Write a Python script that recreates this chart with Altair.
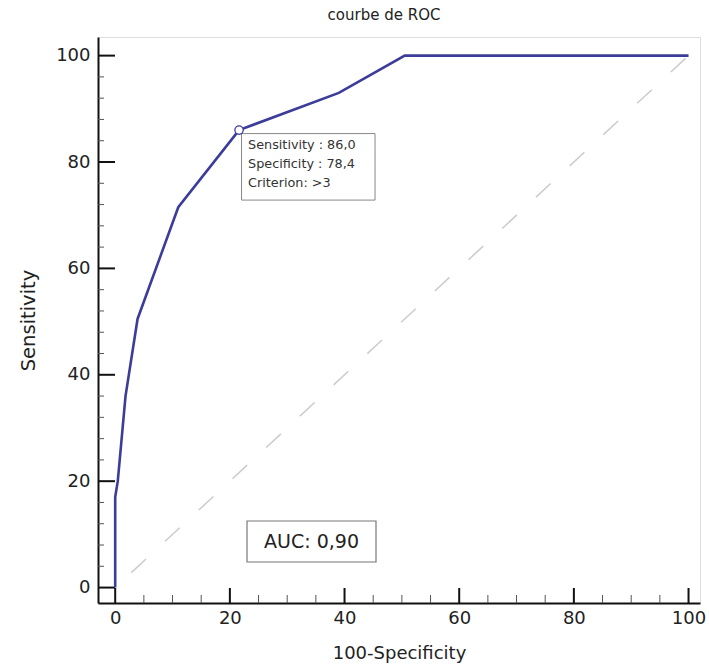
import altair as alt
import pandas as pd

# ROC curve points (100-Specificity, Sensitivity)
fpr = [0, 0, 0.45, 1.8, 3.9, 11.0, 21.6, 39.0, 50.5, 100]
sens = [0, 17, 20, 36, 50.5, 71.5, 86.0, 93.0, 100, 100]

# reference diagonal
diag_x = [0, 100]
diag_y = [0, 100]

# optimal criterion
opt_x = [21.6]
opt_y = [86.0]
opt_text = ["Sensitivity : 86,0\nSpecificity : 78,4\nCriterion: >3"]

auc_text = ["AUC: 0,90"]

x_major = [0, 20, 40, 60, 80, 100]
x_minor = [v for v in range(5, 100, 5) if v % 20 != 0]
y_major = [0, 20, 40, 60, 80, 100]
y_minor = [v for v in range(4, 100, 4) if v % 20 != 0]

W, H = 602, 566
FONT = "DejaVu Sans"
NAVY = "#3c3c9a"

xs = alt.Scale(domain=[-3, 102], nice=False, zero=False)
ys = alt.Scale(domain=[-2.9, 103.5], nice=False, zero=False)

xaxis = alt.Axis(values=x_major, tickSize=0, grid=False, labelFontSize=18, labelFont=FONT,
                 labelColor="#222", labelPadding=6, title="100-Specificity", titleFont=FONT,
                 titleFontSize=18, titleFontWeight="normal", titleColor="#222", titlePadding=17,
                 domainColor="#111", domainWidth=2, labelFlush=False)
yaxis = alt.Axis(values=y_major, tickSize=0, grid=False, labelFontSize=18, labelFont=FONT,
                 labelColor="#222", labelPadding=8, title="Sensitivity", titleFont=FONT,
                 titleFontSize=19.5, titleFontWeight="normal", titleColor="#222", titlePadding=17,
                 domainColor="#111", domainWidth=2, labelFlush=False)

roc_df = pd.DataFrame({"fpr": fpr, "sens": sens, "order": list(range(len(fpr)))})
diag_df = pd.DataFrame({"fpr": diag_x, "sens": diag_y})
opt_df = pd.DataFrame({"fpr": opt_x, "sens": opt_y, "label": opt_text})

diag = alt.Chart(diag_df).mark_line(color="#cbcbcb", strokeWidth=1.5, strokeDash=[20, 26],
                                    strokeDashOffset=-22).encode(
    x=alt.X("fpr:Q", scale=xs, axis=xaxis),
    y=alt.Y("sens:Q", scale=ys, axis=yaxis),
)

roc = alt.Chart(roc_df).mark_line(color=NAVY, strokeWidth=2.6).encode(
    x=alt.X("fpr:Q", scale=xs),
    y=alt.Y("sens:Q", scale=ys),
    order="order:Q",
)

pt = alt.Chart(opt_df).mark_point(shape="circle", size=70, filled=True, fill="white",
                                  stroke=NAVY, strokeWidth=1.3, opacity=1).encode(
    x=alt.X("fpr:Q", scale=xs),
    y=alt.Y("sens:Q", scale=ys),
)

box = alt.Chart(opt_df).mark_rect(fill="white", stroke="#888", strokeWidth=1,
                                  xOffset=2.5, x2Offset=136, yOffset=3.5, y2Offset=70).encode(
    x=alt.X("fpr:Q", scale=xs), x2="fpr:Q",
    y=alt.Y("sens:Q", scale=ys), y2="sens:Q",
)

box_text = alt.Chart(opt_df).mark_text(align="left", baseline="top", dx=9, dy=9,
                                       lineBreak="\n", lineHeight=19, fontSize=12.8,
                                       font=FONT, color="#333").encode(
    x=alt.X("fpr:Q", scale=xs),
    y=alt.Y("sens:Q", scale=ys),
    text="label:N",
)

auc_df = pd.DataFrame({"label": auc_text})
auc_box = alt.Chart(auc_df).mark_rect(fill="white", stroke="#777", strokeWidth=1.2).encode(
    x=alt.value(149), x2=alt.value(278), y=alt.value(484), y2=alt.value(525),
)
auc_lbl = alt.Chart(auc_df).mark_text(fontSize=19, font=FONT, color="#222",
                                      align="center", baseline="middle").encode(
    x=alt.value(213.5), y=alt.value(504.5), text="label:N",
)

ymaj_df = pd.DataFrame({"v": y_major})
ymin_df = pd.DataFrame({"v": y_minor})
xmaj_df = pd.DataFrame({"v": x_major})
xmin_df = pd.DataFrame({"v": x_minor})

ymaj = alt.Chart(ymaj_df).mark_rule(color="#111", strokeWidth=2).encode(
    y=alt.Y("v:Q", scale=ys), x=alt.value(0), x2=alt.value(17))
ymin = alt.Chart(ymin_df).mark_rule(color="#555", strokeWidth=1).encode(
    y=alt.Y("v:Q", scale=ys), x=alt.value(0), x2=alt.value(6))
xmaj = alt.Chart(xmaj_df).mark_rule(color="#111", strokeWidth=2).encode(
    x=alt.X("v:Q", scale=xs), y=alt.value(H), y2=alt.value(H - 15))
xmin = alt.Chart(xmin_df).mark_rule(color="#555", strokeWidth=1).encode(
    x=alt.X("v:Q", scale=xs), y=alt.value(H), y2=alt.value(H - 8))

chart = alt.layer(diag, ymaj, ymin, xmaj, xmin, roc, auc_box, auc_lbl, box, box_text, pt).properties(
    width=W, height=H,
    title=alt.TitleParams("courbe de ROC", font=FONT, fontSize=15, fontWeight="normal",
                          color="#222", offset=14, dx=-15),
    autosize=alt.AutoSizeParams(type="none"),
    padding={"left": 98, "top": 37, "right": 9, "bottom": 68},
).configure_view(stroke=None).configure(background="white")

chart.save("out.html", embed_options={"renderer": "svg", "actions": False})
